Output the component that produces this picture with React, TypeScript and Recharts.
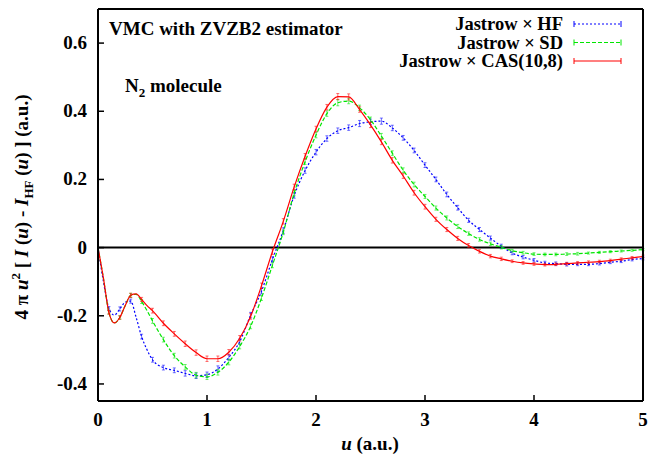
import { LineChart, Line, XAxis, YAxis, ReferenceLine, Legend, ErrorBar } from "recharts";

const FONT = '"Liberation Serif", "Times New Roman", serif';

// u (a.u.)
const uValues = [
  0, 0.05, 0.1, 0.15, 0.2, 0.25, 0.3, 0.35, 0.4, 0.45, 0.5,
  0.6, 0.7, 0.8, 0.9, 1.0, 1.1, 1.2, 1.3, 1.4, 1.5,
  1.6, 1.7, 1.8, 1.9, 2.0, 2.1, 2.2, 2.3, 2.4, 2.5,
  2.6, 2.7, 2.8, 2.9, 3.0, 3.1, 3.2, 3.3, 3.4, 3.5,
  3.6, 3.7, 3.8, 3.9, 4.0, 4.1, 4.2, 4.3, 4.4, 4.5,
  4.6, 4.7, 4.8, 4.9, 5.0,
];

const hfValues = [
  0, -0.1, -0.178, -0.198, -0.18, -0.16, -0.157, -0.205, -0.261, -0.3, -0.329,
  -0.352, -0.36, -0.369, -0.376, -0.373, -0.356, -0.322, -0.276, -0.198, -0.128,
  -0.035, 0.05, 0.153, 0.226, 0.28, 0.32, 0.343, 0.352, 0.364, 0.369,
  0.371, 0.351, 0.322, 0.285, 0.242, 0.2, 0.156, 0.117, 0.08, 0.053,
  0.028, 0.004, -0.016, -0.028, -0.037, -0.045, -0.047, -0.049, -0.049, -0.049,
  -0.047, -0.043, -0.04, -0.035, -0.032,
];

const sdValues = [
  0, -0.09, -0.19, -0.221, -0.205, -0.17, -0.14, -0.137, -0.158, -0.185, -0.215,
  -0.27, -0.317, -0.35, -0.374, -0.379, -0.366, -0.336, -0.29, -0.231, -0.148,
  -0.052, 0.045, 0.16, 0.252, 0.33, 0.393, 0.425, 0.43, 0.41, 0.375,
  0.327, 0.277, 0.227, 0.185, 0.15, 0.116, 0.087, 0.062, 0.041, 0.024,
  0.011, 0.001, -0.009, -0.015, -0.019, -0.02, -0.02, -0.019, -0.018, -0.016,
  -0.014, -0.012, -0.01, -0.008, -0.006,
];

const casValues = [
  0, -0.09, -0.19, -0.221, -0.205, -0.17, -0.14, -0.136, -0.152, -0.17, -0.185,
  -0.222, -0.253, -0.282, -0.308, -0.326, -0.326, -0.307, -0.266, -0.202, -0.112,
  -0.012, 0.077, 0.178, 0.268, 0.348, 0.412, 0.443, 0.442, 0.405, 0.36,
  0.31, 0.256, 0.21, 0.161, 0.12, 0.083, 0.053, 0.027, 0.006, -0.011,
  -0.025, -0.033, -0.04, -0.045, -0.048, -0.05, -0.049, -0.047, -0.045, -0.043,
  -0.041, -0.038, -0.034, -0.03, -0.026,
];

// statistical error bars (only on the 0.1 grid)
const hfErrors = [
  null, null, 0.005, null, 0.006, null, 0.006, null, 0.007, null, 0.007,
  0.007, 0.007, 0.008, 0.008, 0.008, 0.009, 0.008, 0.008, 0.008, 0.008,
  0.008, 0.008, 0.008, 0.008, 0.008, 0.008, 0.008, 0.008, 0.009, 0.008,
  0.009, 0.008, 0.007, 0.007, 0.007, 0.007, 0.007, 0.007, 0.006, 0.006,
  0.006, 0.006, 0.005, 0.005, 0.005, 0.005, 0.005, 0.005, 0.004, 0.004,
  0.004, 0.004, 0.004, 0.004, 0.004,
];

const sdErrors = [
  null, null, 0.005, null, 0.005, null, 0.006, null, 0.006, null, 0.007,
  0.007, 0.007, 0.007, 0.008, 0.008, 0.008, 0.008, 0.007, 0.007, 0.007,
  0.007, 0.007, 0.008, 0.008, 0.008, 0.008, 0.009, 0.008, 0.008, 0.008,
  0.008, 0.007, 0.007, 0.007, 0.006, 0.006, 0.006, 0.006, 0.005, 0.005,
  0.005, 0.005, 0.004, 0.004, 0.004, 0.004, 0.004, 0.004, 0.004, 0.003,
  0.003, 0.003, 0.003, 0.003, 0.003,
];

const casErrors = [
  null, null, 0.005, null, 0.005, null, 0.006, null, 0.006, null, 0.007,
  0.007, 0.007, 0.008, 0.008, 0.008, 0.008, 0.008, 0.008, 0.008, 0.008,
  0.008, 0.008, 0.008, 0.008, 0.008, 0.008, 0.009, 0.009, 0.008, 0.008,
  0.008, 0.008, 0.007, 0.007, 0.007, 0.006, 0.006, 0.006, 0.006, 0.005,
  0.005, 0.005, 0.004, 0.004, 0.004, 0.004, 0.004, 0.004, 0.004, 0.004,
  0.004, 0.004, 0.004, 0.004, 0.004,
];

const seriesNames = ["Jastrow × HF", "Jastrow × SD", "Jastrow × CAS(10,8)"];
const xTicks = [0, 1, 2, 3, 4, 5];
const yTicks = [-0.4, -0.2, 0, 0.2, 0.4, 0.6];

const data = uValues.map((u, i) => ({
  u,
  hf: hfValues[i],
  sd: sdValues[i],
  cas: casValues[i],
  hfErr: hfErrors[i],
  sdErr: sdErrors[i],
  casErr: casErrors[i],
}));

const textProps = {
  fontFamily: FONT,
  fontWeight: "bold" as const,
  fontSize: 19,
  fill: "#000",
};

function BottomTick({ x, y, payload }: any) {
  return (
    <text x={x} y={y + 25} textAnchor="middle" {...textProps}>
      {payload.value}
    </text>
  );
}

function LeftTick({ x, y, payload }: any) {
  return (
    <text x={x - 11} y={y + 6} textAnchor="end" {...textProps}>
      {payload.value}
    </text>
  );
}

function LegendBox({ payload }: any) {
  const items = [...(payload || [])].sort(
    (a: any, b: any) => seriesNames.indexOf(a.value) - seriesNames.indexOf(b.value)
  );
  return (
    <svg width={340} height={64} style={{ display: "block" }}>
      {items.map((p: any, i: number) => {
        const cy = 14 + i * 18.5;
        return (
          <g key={p.value}>
            <text x={263} y={cy + 6} textAnchor="end" {...textProps} fontSize={18.5}>
              {p.value}
            </text>
            <line
              x1={274}
              x2={321}
              y1={cy}
              y2={cy}
              stroke={p.color}
              strokeWidth={1.2}
              strokeDasharray={p.payload?.strokeDasharray}
            />
            <line x1={274} x2={274} y1={cy - 3} y2={cy + 3} stroke={p.color} />
            <line x1={321} x2={321} y1={cy - 3} y2={cy + 3} stroke={p.color} />
          </g>
        );
      })}
    </svg>
  );
}

export default function App() {
  return (
    <div style={{ position: "absolute", left: 0, top: 0, width: 662, height: 457, background: "#fff" }}>
      <LineChart
        width={662}
        height={457}
        data={data}
        margin={{ top: 8, right: 18, bottom: 0, left: 0 }}
      >
        <XAxis
          dataKey="u"
          type="number"
          domain={[0, 5]}
          ticks={xTicks}
          height={56}
          tickSize={-6}
          tickMargin={6}
          axisLine={{ stroke: "#000", strokeWidth: 2 }}
          tickLine={{ stroke: "#000", strokeWidth: 1.5 }}
          tick={<BottomTick />}
        />
        <XAxis
          xAxisId="top"
          orientation="top"
          type="number"
          domain={[0, 5]}
          ticks={xTicks}
          height={1}
          tickSize={-6}
          axisLine={{ stroke: "#000", strokeWidth: 2 }}
          tickLine={{ stroke: "#000", strokeWidth: 1.5 }}
          tick={false}
        />
        <YAxis
          type="number"
          domain={[-0.45, 0.7]}
          ticks={yTicks}
          width={98}
          tickSize={-6}
          tickMargin={6}
          axisLine={{ stroke: "#000", strokeWidth: 2 }}
          tickLine={{ stroke: "#000", strokeWidth: 1.5 }}
          tick={<LeftTick />}
        />
        <YAxis
          yAxisId="right"
          orientation="right"
          type="number"
          domain={[-0.45, 0.7]}
          ticks={yTicks}
          width={1}
          tickSize={-6}
          axisLine={{ stroke: "#000", strokeWidth: 2 }}
          tickLine={{ stroke: "#000", strokeWidth: 1.5 }}
          tick={false}
        />
        <ReferenceLine y={0} stroke="#000" strokeWidth={2} />
        <Line
          dataKey="hf"
          name={seriesNames[0]}
          type="monotone"
          stroke="#0000ff"
          strokeWidth={1.2}
          strokeDasharray="2 2"
          dot={false}
          isAnimationActive={false}
        >
          <ErrorBar dataKey="hfErr" width={1.5} stroke="#0000ff" strokeWidth={0.8} strokeOpacity={0.7} direction="y" />
        </Line>
        <Line
          dataKey="sd"
          name={seriesNames[1]}
          type="monotone"
          stroke="#00e600"
          strokeWidth={1.2}
          strokeDasharray="4 2"
          dot={false}
          isAnimationActive={false}
        >
          <ErrorBar dataKey="sdErr" width={1.5} stroke="#00e600" strokeWidth={0.8} strokeOpacity={0.7} direction="y" />
        </Line>
        <Line
          dataKey="cas"
          name={seriesNames[2]}
          type="monotone"
          stroke="#ff0000"
          strokeWidth={1.2}
          dot={false}
          isAnimationActive={false}
        >
          <ErrorBar dataKey="casErr" width={1.5} stroke="#ff0000" strokeWidth={0.8} strokeOpacity={0.7} direction="y" />
        </Line>
        <Legend
          layout="horizontal"
          verticalAlign="middle"
          align="center"
          content={<LegendBox />}
          wrapperStyle={{ position: "absolute", left: 300, top: 10, width: 340, height: 64 }}
        />
      </LineChart>
      <svg
        width={662}
        height={457}
        style={{ position: "absolute", left: 0, top: 0, pointerEvents: "none" }}
      >
        <text x={109} y={35} {...textProps}>
          VMC with ZVZB2 estimator
        </text>
        <text x={125} y={92} {...textProps}>
          N<tspan fontSize={13} dy={5}>2</tspan>
          <tspan dy={-5}> molecule</tspan>
        </text>
        <text transform="translate(28,207) rotate(-90)" textAnchor="middle" {...textProps}>
          4 π <tspan fontStyle="italic">u</tspan>
          <tspan fontSize={13} dy={-8}>2</tspan>
          <tspan dy={8}> [ </tspan>
          <tspan fontStyle="italic">I</tspan> (<tspan fontStyle="italic">u</tspan>) -{" "}
          <tspan fontStyle="italic">I</tspan>
          <tspan fontSize={13} dy={5}>HF</tspan>
          <tspan dy={-5}> (</tspan>
          <tspan fontStyle="italic">u</tspan>) ] (a.u.)
        </text>
        <text x={370} y={450} textAnchor="middle" {...textProps}>
          <tspan fontStyle="italic">u</tspan> (a.u.)
        </text>
      </svg>
    </div>
  );
}
